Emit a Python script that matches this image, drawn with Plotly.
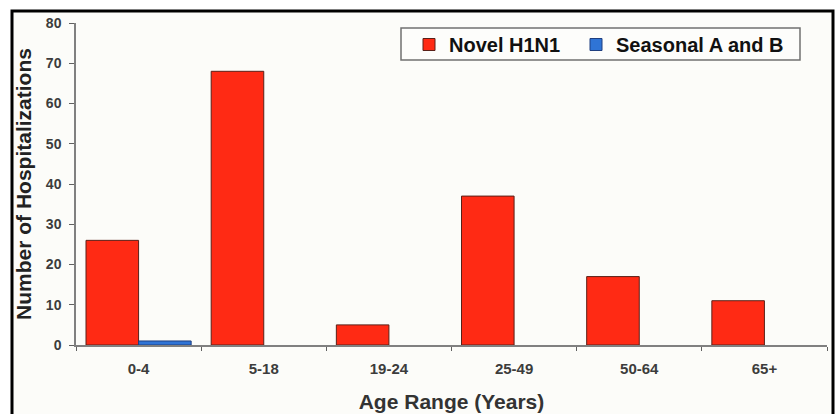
import plotly.graph_objects as go

categories = ["0-4", "5-18", "19-24", "25-49", "50-64", "65+"]
novel_h1n1 = [26, 68, 5, 37, 17, 11]
seasonal_ab = [1, 0, 0, 0, 0, 0]
y_ticks = [0, 10, 20, 30, 40, 50, 60, 70, 80]

FONT = "Liberation Sans, Arial, sans-serif"

fig = go.Figure()
fig.add_trace(go.Bar(
    x=categories, y=novel_h1n1, name="<b>Novel H1N1</b>",
    marker=dict(color="#ff2a14",
                line=dict(color="#5a2018", width=[1 if v > 0 else 0 for v in novel_h1n1])),
    legendwidth=122,
))
fig.add_trace(go.Bar(
    x=categories, y=seasonal_ab, name="<b>Seasonal A and B</b>",
    marker=dict(color="#2f74d6",
                line=dict(color="#1f3f80", width=[1 if v > 0 else 0 for v in seasonal_ab])),
))

W, H = 837, 414
L, R, T, B = 76, 10, 23, 69
pw, ph = W - L - R, H - T - B

def px_x(px):
    return (px - L) / pw

def px_y(py):
    return (H - B - py) / ph

# outer frame
fig.add_shape(type="rect", xref="paper", yref="paper",
              x0=px_x(12), x1=px_x(833), y0=px_y(440), y1=px_y(11),
              line=dict(color="black", width=3), fillcolor="#fcfcf9", layer="below")
# legend frame
fig.add_shape(type="rect", xref="paper", yref="paper",
              x0=px_x(401), x1=px_x(800), y0=px_y(60), y1=px_y(28),
              line=dict(color="#707070", width=1.5), fillcolor="#fdfdfb", layer="below")

fig.update_layout(
    width=W, height=H,
    margin=dict(l=L, r=R, t=T, b=B, autoexpand=False),
    paper_bgcolor="white",
    plot_bgcolor="rgba(0,0,0,0)",
    barmode="group",
    bargap=0.16,
    bargroupgap=0,
    font=dict(family=FONT, color="#222"),
    legend=dict(
        orientation="h", x=px_x(409), xanchor="left", y=px_y(25), yanchor="top",
        borderwidth=0, bgcolor="rgba(0,0,0,0)",
        font=dict(family=FONT, size=20, color="#111"),
    ),
    xaxis=dict(
        type="category", showgrid=False, showline=True, linecolor="#808080", linewidth=1.5,
        ticks="outside", tickson="boundaries", ticklen=4, tickcolor="#606060",
        tickvals=categories, ticktext=[f"<b>{c}</b>" for c in categories],
        tickfont=dict(family=FONT, size=15, color="#3c3c3c"), ticklabelstandoff=9,
        title=dict(text="<b>Age Range (Years)</b>", font=dict(family=FONT, size=21, color="#333"), standoff=19),
        automargin=False,
    ),
    yaxis=dict(
        range=[0, 80], tickvals=y_ticks, ticktext=[f"<b>{v}</b>" for v in y_ticks],
        showgrid=False, zeroline=False,
        showline=True, linecolor="#808080", linewidth=1.5,
        ticks="outside", ticklen=5, tickcolor="#606060",
        tickfont=dict(family=FONT, size=14, color="#3c3c3c"), ticklabelstandoff=5,
        title=dict(text="<b>Number of Hospitalizations</b>", font=dict(family=FONT, size=21, color="#222"), standoff=9),
        automargin=False,
    ),
)

fig.write_html("out.html", config={"displayModeBar": False},
               post_script="document.body.style.margin='0px';")
